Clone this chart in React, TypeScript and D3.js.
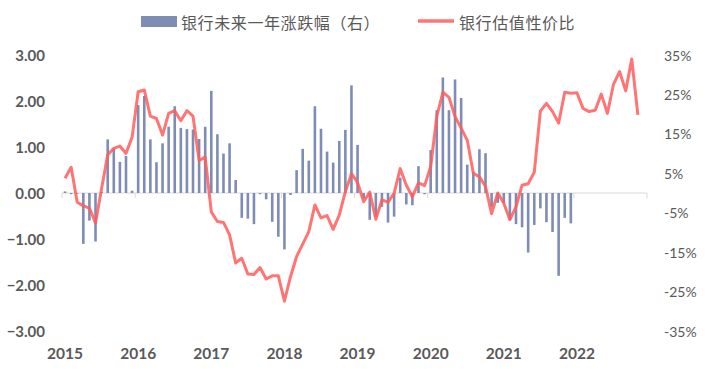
import * as d3 from 'd3';

// 月度类目：2015-01 至 2022-12
const months = d3.timeMonths(new Date(2015, 0, 1), new Date(2023, 0, 1)).map(d3.timeFormat('%Y-%m'));
const yearLabels = ['2015', '2016', '2017', '2018', '2019', '2020', '2021', '2022'];

// 银行未来一年涨跌幅（右轴，%），2015-01 ~ 2021-12
const fwdReturn = [
  0.4, -0.3, -0.2, -12.9, -7.0, -12.3, 0.3, 13.6, 11.3, 7.9, 9.4, 0.6,
  22.3, 24.6, 13.6, 7.8, 12.6, 16.8, 22.0, 16.5, 16.2, 16.1, 13.7, 16.8,
  25.9, 14.9, 10.0, 12.6, 3.3, -6.3, -6.5, -7.9, -0.3, -1.6, -7.3, -11.1,
  -14.3, -0.5, 5.8, 11.2, 8.2, 22.0, 16.3, 10.5, 7.7, 13.2, 16.0, 27.3,
  12.2, -1.3, -6.8, -6.0, -3.5, -7.5, -6.0, 3.9, -2.9, -3.1, 6.8, -0.3,
  10.9, 21.0, 29.3, 21.0, 28.8, 24.1, 7.2, 5.4, 11.1, 10.1, -3.5, -2.5,
  -2.6, -6.8, -7.9, -8.7, -15.1, -8.1, -3.9, -7.4, -9.9, -21.0, -6.3, -7.7,
];

// 银行估值性价比（左轴），2015-01 ~ 2022-11
const valuation = [
  0.32, 0.56, -0.2, -0.28, -0.33, -0.65, 0.1, 0.83, 0.97, 1.02, 0.86, 1.21,
  2.2, 2.24, 1.67, 1.62, 1.26, 1.73, 1.79, 1.57, 1.79, 1.67, 0.71, 0.78,
  -0.41, -0.62, -0.64, -0.91, -1.52, -1.42, -1.76, -1.77, -1.62, -1.87, -1.8, -1.8,
  -2.35, -1.82, -1.38, -1.11, -0.84, -0.26, -0.54, -0.49, -0.79, -0.48, 0.03, 0.42,
  0.23, -0.19, 0.02, -0.57, -0.15, -0.2, -0.01, 0.53, 0.17, -0.08, 0.22, 0.16,
  0.57, 1.66, 2.19, 2.08, 1.66, 1.41, 1.15, 0.43, 0.35, 0.14, -0.45, 0.0,
  -0.22, -0.58, -0.3, 0.17, 0.2, 0.45, 1.78, 1.95, 1.77, 1.52, 2.19, 2.17,
  2.18, 1.84, 1.77, 1.8, 2.15, 1.73, 2.36, 2.64, 2.22, 2.91, 1.7,
];

const leftTicks = [3, 2, 1, 0, -1, -2, -3];
const rightTicks = [35, 25, 15, 5, -5, -15, -25, -35];

const W = 708;
const H = 369;
const BAR = '#7f8db4';
const LINE = '#ff5c5c';
const TXT = '#595959';
const NUM_FONT = 'Lato, "Open Sans", sans-serif';

export default function App() {
  const x = d3.scaleBand<string>().domain(months).range([62, 647]).padding(0);
  const yL = d3.scaleLinear().domain([-3, 3]).range([331, 55]);
  const yR = d3.scaleLinear().domain([-35, 35]).range([331, 55]);
  const cx = (i: number) => (x(months[i]) ?? 0) + x.bandwidth() / 2;

  const line = d3.line<number>()
    .x((_, i) => cx(i))
    .y(d => yL(d));

  const yearTicks = months.filter((_, i) => i % 12 === 0);
  const bw = 2.6;

  return (
    <div style={{ position: 'absolute', left: 0, top: 0 }}>
      <svg width={W} height={H} style={{ display: 'block', background: '#fff' }}>
        {/* legend */}
        <g fontFamily='"Noto Sans CJK SC", sans-serif' fontSize={16} fill={TXT}>
          <rect x={141} y={16} width={36} height={11} fill={BAR} />
          <text x={181} y={22} dominantBaseline="central" letterSpacing={0.6}>银行未来一年涨跌幅（右）</text>
          <line x1={418} x2={454} y1={21} y2={21} stroke={LINE} strokeWidth={3.5} opacity={0.85} />
          <text x={459} y={22} dominantBaseline="central" letterSpacing={0.6}>银行估值性价比</text>
        </g>

        {/* zero axis */}
        <line x1={62} x2={647} y1={yR(0)} y2={yR(0)} stroke="#d9d9d9" strokeWidth={1} />
        {yearTicks.map(m => (
          <line key={m} x1={x(m)} x2={x(m)} y1={yR(0)} y2={yR(0) + 5} stroke="#d9d9d9" />
        ))}
        <line x1={647} x2={647} y1={yR(0)} y2={yR(0) + 5} stroke="#d9d9d9" />

        {/* bars */}
        {fwdReturn.map((v, i) => (
          <rect key={i} x={cx(i) - bw / 2} width={bw}
            y={Math.min(yR(v), yR(0))} height={Math.abs(yR(v) - yR(0))} fill={BAR} />
        ))}

        {/* line */}
        <path d={line(valuation) ?? ''} fill="none" stroke={LINE} strokeWidth={3}
          strokeLinejoin="round" opacity={0.85} />

        {/* left axis */}
        <g fontFamily={NUM_FONT} fontSize={15} fontWeight="bold" fill={TXT} textAnchor="end">
          {leftTicks.map(t => (
            <text key={t} x={45} y={yL(t)} dominantBaseline="central">{d3.format('.2f')(t)}</text>
          ))}
        </g>

        {/* right axis */}
        <g fontFamily={NUM_FONT} fontSize={14} fill={TXT} textAnchor="start">
          {rightTicks.map(t => (
            <text key={t} x={664} y={yR(t)} dominantBaseline="central">{t + '%'}</text>
          ))}
        </g>

        {/* year labels */}
        <g fontFamily={NUM_FONT} fontSize={15.5} fontWeight="bold" fill={TXT} textAnchor="middle">
          {yearLabels.map((yl, k) => (
            <text key={yl} x={cx(k * 12)} y={353} dominantBaseline="central">{yl}</text>
          ))}
        </g>
      </svg>
    </div>
  );
}
